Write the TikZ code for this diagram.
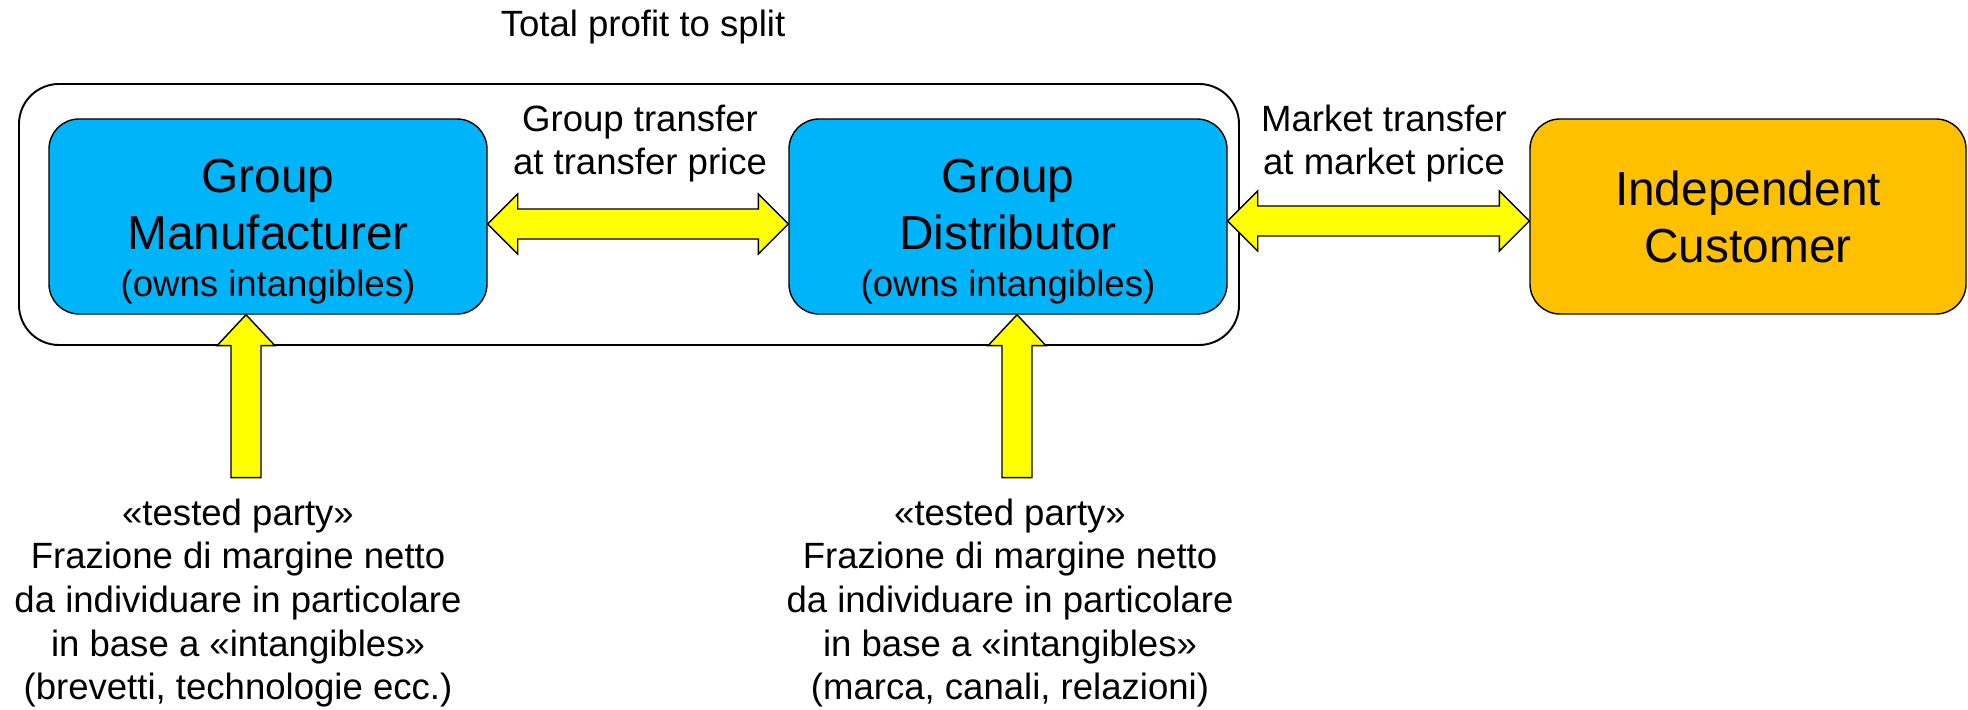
\documentclass[tikz,border=0pt]{standalone}
\usepackage{fontspec}
\setmainfont{Liberation Sans}
\usetikzlibrary{calc}

\definecolor{boxblue}{RGB}{0,180,250}
\definecolor{custorange}{RGB}{255,192,0}
\definecolor{flowyellow}{RGB}{255,255,0}

\newcommand{\bodytxt}{\fontsize{20.8}{24.8}\selectfont}

\tikzset{
    entity/.style={draw, line width=0.8pt, rounded corners=0.6cm, minimum width=8.76cm, minimum height=3.9cm},
    entitytext/.style={align=center, font=\fontsize{27.2}{32.5}\selectfont},
    flow/.style={draw, line width=0.8pt, fill=flowyellow, line join=miter},
    note/.style={align=center, font=\bodytxt},
}

\begin{document}
\begin{tikzpicture}
    \newcommand{\twoway}[2]{
        \draw[flow] (#1) -- ++(0.6, 0.6) -- ++(0, -0.3) -- ($(#2) + (-0.6, 0.3)$) -- ++(0, 0.3) -- (#2)
            -- ++(-0.6, -0.6) -- ++(0, 0.3) -- ($(#1) + (0.6, -0.3)$) -- ++(0, -0.3) -- cycle;
    }
    \newcommand{\upflow}[1]{
        \draw[flow] (#1) -- ++(0.58, -0.62) -- ++(-0.28, 0) -- ++(0, -2.64) -- ++(-0.6, 0) -- ++(0, 2.64) -- ++(-0.28, 0) -- cycle;
    }
    \useasboundingbox (0, 0) rectangle (39.36, 14.2);

    % group boundary
    \draw[line width=1.1pt, rounded corners=0.8cm] (0.38, 7.3) rectangle (24.78, 12.52);
    \node[note] (total) at (12.86, 13.65) {Total profit to split};

    \node[entity, fill=boxblue, label={[entitytext, yshift=-0.3cm]center:Group\\Manufacturer\\[-5.7pt]{\bodytxt (owns intangibles)}}] (man) at (5.36, 9.87) {};
    \node[entity, fill=boxblue, label={[entitytext, yshift=-0.3cm]center:Group\\Distributor\\[-5.7pt]{\bodytxt (owns intangibles)}}] (dist) at (20.16, 9.87) {};
    \node[entity, fill=custorange, minimum width=8.72cm, label={[entitytext]center:Independent\\Customer}] (cust) at (34.96, 9.87) {};

    \node[note] (grouplbl) at (12.8, 11.33) {Group transfer\\at transfer price};
    \node[note] (marketlbl) at (27.68, 11.33) {Market transfer\\at market price};

    % transfers
    \coordinate (md1) at ($(man.east) + (0, -0.15)$);
    \coordinate (md2) at ($(dist.west) + (0, -0.15)$);
    \twoway{md1}{md2}
    \coordinate (dc1) at ($(dist.east) + (0, -0.09)$);
    \coordinate (dc2) at ($(cust.west) + (0, -0.09)$);
    \twoway{dc1}{dc2}

    % tested parties
    \coordinate (mtip) at ($(man.south) + (-0.44, 0)$);
    \coordinate (dtip) at ($(dist.south) + (0.18, 0)$);
    \upflow{mtip}
    \upflow{dtip}

    \node[note] (testm) at (4.76, 2.14) {«tested party»\\Frazione di margine netto\\da individuare in particolare\\in base a «intangibles»\\(brevetti, technologie ecc.)};
    \node[note] (testd) at (20.2, 2.14) {«tested party»\\Frazione di margine netto\\da individuare in particolare\\in base a «intangibles»\\(marca, canali, relazioni)};
\end{tikzpicture}
\end{document}
